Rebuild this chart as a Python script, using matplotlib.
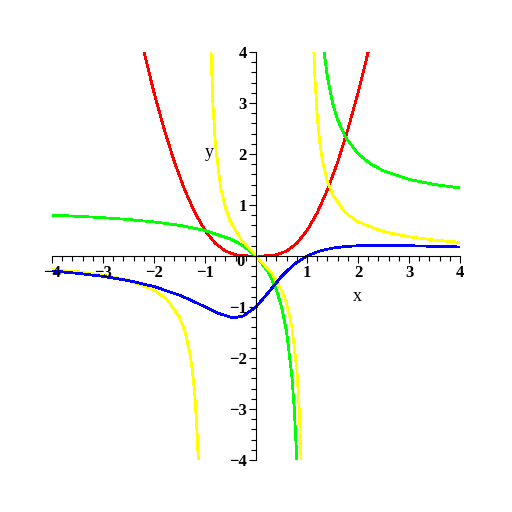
import matplotlib.pyplot as plt
from matplotlib.ticker import MultipleLocator

# values
red_x = [-2.2, -2.0, -1.8, -1.6, -1.4, -1.2, -1.0, -0.8, -0.6, -0.4, -0.2, 0.0,
         0.2, 0.4, 0.6, 0.8, 1.0, 1.2, 1.4, 1.6, 1.8, 2.0, 2.2]
red_y = [4.01, 3.2, 2.48, 1.84, 1.30, 0.85, 0.5, 0.25, 0.095, 0.022, 0.002, 0.0,
         0.002, 0.022, 0.095, 0.25, 0.5, 0.85, 1.30, 1.84, 2.48, 3.2, 4.01]

green_left_x = [-4.0, -3.5, -3.0, -2.5, -2.0, -1.5, -1.0, -0.5, -0.25, 0.0,
                0.25, 0.4, 0.5, 0.6, 0.7, 0.75, 0.8]
green_left_y = [0.8, 0.778, 0.75, 0.714, 0.667, 0.6, 0.5, 0.333, 0.2, 0.0,
                -0.333, -0.667, -1.0, -1.5, -2.333, -3.0, -4.0]
green_right_x = [1.333, 1.4, 1.5, 1.6, 1.75, 2.0, 2.25, 2.5, 3.0, 3.5, 4.0]
green_right_y = [4.0, 3.5, 3.0, 2.667, 2.333, 2.0, 1.8, 1.667, 1.5, 1.4, 1.333]

yellow_left_x = [-4.0, -3.5, -3.0, -2.5, -2.0, -1.75, -1.5, -1.4, -1.3, -1.25,
                 -1.2, -1.15, -1.13]
yellow_left_y = [-0.267, -0.311, -0.375, -0.476, -0.667, -0.848, -1.2, -1.458,
                 -1.884, -2.222, -2.727, -3.566, -4.08]
yellow_mid_x = [-0.885, -0.85, -0.8, -0.7, -0.6, -0.5, -0.3, 0.0,
                0.3, 0.5, 0.6, 0.7, 0.8, 0.85, 0.885]
yellow_mid_y = [4.08, 3.063, 2.222, 1.373, 0.938, 0.667, 0.330, 0.0,
                -0.330, -0.667, -0.938, -1.373, -2.222, -3.063, -4.08]
yellow_right_x = [1.13, 1.15, 1.2, 1.25, 1.3, 1.4, 1.5, 1.75, 2.0, 2.5, 3.0, 3.5, 4.0]
yellow_right_y = [4.08, 3.566, 2.727, 2.222, 1.884, 1.458, 1.2, 0.848, 0.667,
                  0.476, 0.375, 0.311, 0.267]

blue_x = [-4.0, -3.5, -3.0, -2.5, -2.0, -1.5, -1.25, -1.0, -0.75, -0.5, -0.4,
          -0.25, 0.0, 0.25, 0.5, 0.75, 1.0, 1.25, 1.5, 1.75, 2.0, 2.5, 3.0, 3.5, 4.0]
blue_y = [-0.294, -0.340, -0.4, -0.483, -0.6, -0.769, -0.878, -1.0, -1.12, -1.2,
          -1.207, -1.176, -1.0, -0.706, -0.4, -0.16, 0.0, 0.098, 0.154, 0.185,
          0.2, 0.207, 0.2, 0.189, 0.176]

ticks = [-4, -3, -2, -1, 1, 2, 3, 4]
tick_labels = ["\u22124", "\u22123", "\u22122", "\u22121", "1", "2", "3", "4"]

fig = plt.figure(figsize=(5.12, 5.12), dpi=100)
ax = fig.add_axes([0.1016, 0.1016, 0.797, 0.797])
ax.set_axisbelow(False)

lw = 1.25
ax.plot(red_x, red_y, color="#ff0000", lw=lw, antialiased=False)
ax.plot(green_left_x, green_left_y, color="#00ff00", lw=lw, antialiased=False)
ax.plot(green_right_x, green_right_y, color="#00ff00", lw=lw, antialiased=False)
ax.plot(yellow_left_x, yellow_left_y, color="#ffff00", lw=lw, antialiased=False)
ax.plot(yellow_mid_x, yellow_mid_y, color="#ffff00", lw=lw, antialiased=False)
ax.plot(yellow_right_x, yellow_right_y, color="#ffff00", lw=lw, antialiased=False)
ax.plot(blue_x, blue_y, color="#0000ff", lw=lw, antialiased=False)

ax.set_xlim(-4, 4)
ax.set_ylim(-4, 4)
ax.spines["left"].set_position(("data", 0))
ax.spines["bottom"].set_position(("data", 0))
ax.spines["top"].set_visible(False)
ax.spines["right"].set_visible(False)
for s in ("left", "bottom"):
    ax.spines[s].set_linewidth(0.8)

font = {"family": "Liberation Serif", "size": 12, "weight": "bold"}
ax.set_xticks(ticks)
ax.set_xticklabels(tick_labels, fontdict=font)
ax.set_yticks(ticks)
ax.set_yticklabels(tick_labels, fontdict=font)
ax.xaxis.set_minor_locator(MultipleLocator(0.2))
ax.yaxis.set_minor_locator(MultipleLocator(0.2))
ax.tick_params(which="major", direction="out", length=5, width=0.8, pad=1.5)
ax.tick_params(which="minor", direction="out", length=3.5, width=0.8)

ax.text(-0.31, -0.12, "0", ha="center", va="center", zorder=5, **font)
ax.text(1.98, -0.80, "x", ha="center", va="center",
        family="Liberation Serif", size=13)
ax.text(-0.92, 2.02, "y", ha="center", va="center",
        family="Liberation Serif", size=13)

ax.patch.set_visible(False)
fig.savefig("out.png", dpi=100)
